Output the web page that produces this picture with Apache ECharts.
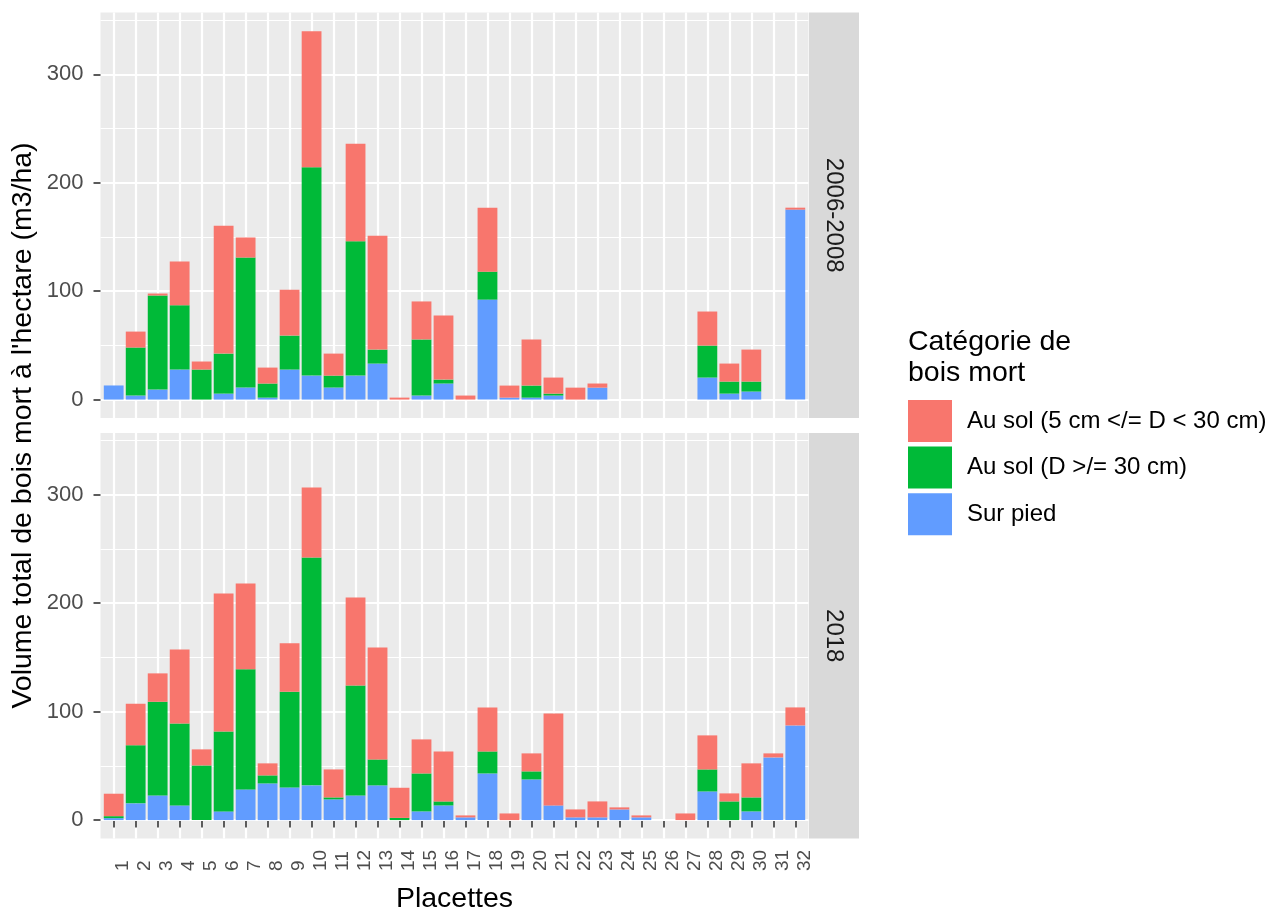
<!DOCTYPE html>
<html>
<head>
<meta charset="utf-8">
<script src="https://cdn.jsdelivr.net/npm/echarts@6/dist/echarts.min.js"></script>
<style>
  html, body { margin: 0; padding: 0; background: #ffffff; }
  #chart { width: 1269px; height: 912px; }
</style>
</head>
<body>
<div id="chart"></div>
<script>
// Placettes (plots) 1..32
const placettes = [1,2,3,4,5,6,7,8,9,10,11,12,13,14,15,16,17,18,19,20,21,22,23,24,25,26,27,28,29,30,31,32];
const periodes = ['2006-2008', '2018'];
const categories = ['Au sol (5 cm </= D < 30 cm)', 'Au sol (D >/= 30 cm)', 'Sur pied'];
const yTicks = [0, 100, 200, 300];
const yMinorTicks = [50, 150, 250, 350];

// Dead wood volume (m3/ha), 2006-2008 inventory
const surPied2006 = [13, 3.7, 9.2, 27.7, 0, 5.5, 11.1, 1.8, 27.7, 22.1, 11.1, 22.1, 33.2, 0, 3.7, 14.8,
                     0, 92.2, 1.8, 1.8, 3.7, 0, 11, 0, 0, 0, 0, 20.3, 5.5, 7.4, 0, 175.2];
const gros2006    = [0, 44.3, 86.8, 59.3, 27.7, 36.9, 119.9, 13, 31.3, 192.2, 11, 123.9, 12.9, 0, 51.8, 3.6,
                     0, 25.8, 0, 11.1, 1.8, 0, 0, 0, 0, 0, 0, 29.5, 11.1, 9.2, 0, 0];
const petit2006   = [0, 14.7, 1.8, 40.3, 7.4, 118, 18.5, 14.7, 42.4, 125.5, 20.3, 90, 105.1, 1.8, 35, 59.1,
                     3.7, 59, 11.1, 42.4, 14.8, 11, 3.8, 0, 0, 0, 0, 31.4, 16.6, 29.5, 0, 1.8];

// Dead wood volume (m3/ha), 2018 inventory
const surPied2018 = [1.8, 15.4, 22.7, 13.5, 0, 8, 28.3, 33.8, 30.1, 32, 19.1, 22.7, 32, 0, 8, 13.5,
                     2.5, 43, 0, 37.5, 13.5, 2.5, 2.5, 9.8, 2.5, 0, 0, 26.4, 0, 8, 57.8, 87.3];
const gros2018    = [1.8, 53.5, 86.4, 75.6, 50.4, 73.8, 110.7, 7.4, 88.3, 210.2, 1.8, 101.5, 23.9, 2, 35, 3.7,
                     0, 20.3, 0, 7.4, 0, 0, 0, 0, 0, 0, 0, 20.3, 17.2, 12.9, 0, 0];
const petit2018   = [20.7, 38.4, 26.2, 68.3, 14.8, 127.2, 79.3, 11.1, 44.6, 64.6, 25.8, 81.1, 103.3, 27.8, 31.4, 46.1,
                     1.8, 40.6, 6.1, 16.6, 84.9, 7.3, 14.7, 1.9, 1.8, 0, 6.1, 31.4, 7.4, 31.4, 3.7, 16.6];

const couleurs = { petit: '#F8766D', gros: '#00BA38', pied: '#619CFF' };
const FONT = '"Liberation Sans", Arial, Helvetica, sans-serif';

// Panel geometry (shared by both facets)
const PANEL_LEFT = 100.5, PANEL_WIDTH = 708;
const PANEL_TOPS = [12.5, 433];
const PANEL_HEIGHT = 405.5;
const Y_MIN = -17, Y_MAX = 357;

const chart = echarts.init(document.getElementById('chart'), null, { renderer: 'canvas' });

const grids = PANEL_TOPS.map(top => ({
  left: PANEL_LEFT, top: top, width: PANEL_WIDTH, height: PANEL_HEIGHT,
  show: true, backgroundColor: '#EBEBEB', borderWidth: 0,
  containLabel: false, outerBoundsMode: 'none'
}));

const xAxes = PANEL_TOPS.map((_, g) => ({
  type: 'value', gridIndex: g, min: 0.4, max: 32.6,
  axisLine: { show: false },
  axisTick: { show: g === 1, customValues: placettes, length: 7.5,
              lineStyle: { color: '#333333', width: 1.6 } },
  axisLabel: { show: g === 1, customValues: placettes, rotate: 90, align: 'left', verticalAlign: 'top',
               margin: 32.5, fontSize: 19, color: '#4D4D4D', fontFamily: FONT },
  splitLine: { show: true, lineStyle: { color: '#FFFFFF', width: 2.2 } }
}));

const yAxes = [];
PANEL_TOPS.forEach((_, g) => {
  yAxes.push({
    type: 'value', gridIndex: g, min: Y_MIN, max: Y_MAX,
    axisLine: { show: false },
    axisTick: { show: true, customValues: yTicks, length: 7, lineStyle: { color: '#333333', width: 1.6 } },
    axisLabel: { show: true, customValues: yTicks, margin: 17, fontSize: 22, color: '#4D4D4D', fontFamily: FONT },
    splitLine: { show: true, lineStyle: { color: '#FFFFFF', width: 2.2 } },
    z: 2
  });
  yAxes.push({
    type: 'value', gridIndex: g, min: Y_MIN, max: Y_MAX, position: 'left',
    axisLine: { show: false },
    axisTick: { show: false, customValues: yMinorTicks },
    axisLabel: { show: false, customValues: yMinorTicks },
    splitLine: { show: true, lineStyle: { color: '#FFFFFF', width: 1.1 } },
    z: 1
  });
});

// Volume first so that the stack accumulates on the vertical (value) dimension
function pairs(vals) { return vals.map((v, i) => [v, placettes[i]]); }

const panneaux = [
  { pied: surPied2006, gros: gros2006, petit: petit2006 },
  { pied: surPied2018, gros: gros2018, petit: petit2018 }
];

const series = [];
panneaux.forEach((p, g) => {
  // stacked bottom-up: standing, large ground wood, small ground wood
  [[categories[2], p.pied, couleurs.pied],
   [categories[1], p.gros, couleurs.gros],
   [categories[0], p.petit, couleurs.petit]].forEach(([name, vals, color]) => {
    series.push({
      type: 'bar', name: name, xAxisIndex: g, yAxisIndex: g * 2, stack: 'panel' + g,
      barWidth: 19.8, data: pairs(vals),
      dimensions: ['volume', 'placette'],
      encode: { x: 'placette', y: 'volume' },
      itemStyle: { color: color, borderWidth: 0 },
      emphasis: { disabled: true }
    });
  });
});

// Facet strips on the right of each panel
const graphics = [];
periodes.forEach((label, g) => {
  graphics.push({
    type: 'rect', left: PANEL_LEFT + PANEL_WIDTH + 0.5, top: PANEL_TOPS[g],
    shape: { width: 50, height: PANEL_HEIGHT }, style: { fill: '#D9D9D9' }, silent: true
  });
  graphics.push({
    type: 'text', x: PANEL_LEFT + PANEL_WIDTH + 25.5, y: PANEL_TOPS[g] + PANEL_HEIGHT / 2,
    rotation: -Math.PI / 2,
    style: { text: label, fill: '#1A1A1A', font: '24px ' + FONT, align: 'center', verticalAlign: 'middle' },
    silent: true
  });
});
// Axis titles
graphics.push({
  type: 'text', x: 23.5, y: (PANEL_TOPS[0] + PANEL_TOPS[1] + PANEL_HEIGHT) / 2,
  rotation: Math.PI / 2,
  style: { text: "Volume total de bois mort à l'hectare (m3/ha)", fill: '#000000',
           font: '28.5px ' + FONT, align: 'center', verticalAlign: 'middle' },
  silent: true
});
graphics.push({
  type: 'text', x: PANEL_LEFT + PANEL_WIDTH / 2, y: 899,
  style: { text: 'Placettes', fill: '#000000', font: '28.5px ' + FONT, align: 'center', verticalAlign: 'middle' },
  silent: true
});

chart.setOption({
  animation: false,
  backgroundColor: '#FFFFFF',
  title: {
    text: 'Catégorie de\nbois mort', left: 903, top: 321,
    textStyle: { fontSize: 28.5, fontWeight: 'normal', color: '#000000', lineHeight: 31.5, fontFamily: FONT }
  },
  legend: {
    orient: 'vertical', left: 903, top: 395, itemWidth: 44, itemHeight: 42, itemGap: 4.6,
    icon: 'rect', data: categories, selectedMode: false,
    textStyle: { fontSize: 24, color: '#000000', fontFamily: FONT, padding: [0, 0, 0, 10] }
  },
  grid: grids,
  xAxis: xAxes,
  yAxis: yAxes,
  series: series,
  graphic: graphics
});
</script>
</body>
</html>
